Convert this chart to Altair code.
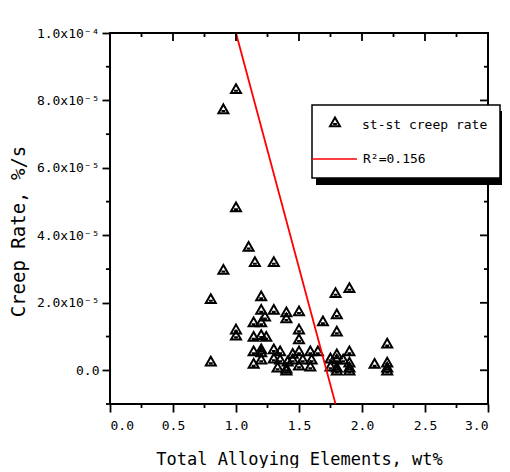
import altair as alt
import pandas as pd

# ---- data ----
alloy = [0.8, 0.8, 0.9, 0.9, 1.0, 1.0, 1.0, 1.0, 1.1, 1.15, 1.3, 1.2, 1.2, 1.23, 1.3,
         1.4, 1.5, 1.4, 1.14, 1.2, 1.5, 1.14, 1.2, 1.24, 1.5, 1.14, 1.2, 1.2, 1.3, 1.35,
         1.45, 1.5, 1.59, 1.65, 1.14, 1.2, 1.3, 1.35, 1.41, 1.45, 1.53, 1.6, 1.33, 1.4,
         1.5, 1.59, 1.4, 1.69, 1.79, 1.9, 1.8, 1.8, 1.9, 1.8, 1.75, 1.8, 1.85, 1.9,
         1.75, 1.8, 1.8, 1.9, 1.9, 2.1, 2.2, 2.2, 2.2, 2.2]
creep = [2.12e-5, 0.27e-5, 7.75e-5, 2.99e-5, 8.35e-5, 4.84e-5, 1.22e-5, 1.04e-5, 3.67e-5,
         3.22e-5, 3.22e-5, 2.2e-5, 1.8e-5, 1.6e-5, 1.8e-5, 1.73e-5, 1.76e-5, 1.55e-5,
         1.43e-5, 1.43e-5, 1.22e-5, 1.0e-5, 1.05e-5, 1.0e-5, 0.93e-5, 0.57e-5, 0.63e-5,
         0.54e-5, 0.63e-5, 0.57e-5, 0.5e-5, 0.57e-5, 0.57e-5, 0.57e-5, 0.2e-5, 0.33e-5,
         0.36e-5, 0.33e-5, 0.27e-5, 0.33e-5, 0.33e-5, 0.33e-5, 0.09e-5, 0.06e-5, 0.15e-5,
         0.12e-5, 0.0, 1.46e-5, 2.3e-5, 2.45e-5, 1.67e-5, 1.16e-5, 0.57e-5, 0.48e-5,
         0.36e-5, 0.33e-5, 0.33e-5, 0.24e-5, 0.12e-5, 0.09e-5, 0.0, 0.09e-5, 0.0,
         0.2e-5, 0.8e-5, 0.24e-5, 0.09e-5, 0.0]

fit_x = [1.0, 1.79]
fit_y = [1.0e-4, -1.0e-5]

x_major = [0.0, 0.5, 1.0, 1.5, 2.0, 2.5, 3.0]
x_minor = [0.25, 0.75, 1.25, 1.75, 2.25, 2.75]
y_major = [0.0, 2e-5, 4e-5, 6e-5, 8e-5, 1e-4]
y_major_labels = ["0.0", "2.0x10⁻⁵", "4.0x10⁻⁵", "6.0x10⁻⁵", "8.0x10⁻⁵", "1.0x10⁻⁴"]
y_minor = [-1e-5, 1e-5, 3e-5, 5e-5, 7e-5, 9e-5]
legend_labels = ["st-st creep rate", "R²=0.156"]

x_title = "Total Alloying Elements, wt%"
y_title = "Creep Rate, %/s"

# ---- styling ----
W, H = 378, 371
FONT = "DejaVu Sans Mono"
TRI = "M0,-0.9L1,0.85L-1,0.85Z M-0.38,0.42L0.38,0.42"

xs = alt.Scale(domain=[0, 3], nice=False, zero=False)
ys = alt.Scale(domain=[-1e-5, 1e-4], nice=False, zero=False)

label_expr = ""
for v, s in zip(y_major, y_major_labels):
    label_expr += f"abs(datum.value - ({v})) < 1e-9 ? '{s}' : "
label_expr += "''"

x_axis = alt.Axis(
    values=x_major, format=".1f", tickSize=8, tickWidth=1.8, tickColor="black",
    domain=False, grid=False, labelFont=FONT, labelFontSize=13, labelColor="black",
    labelPadding=7, title=x_title, titleFont=FONT, titleFontSize=17,
    titleFontWeight="normal", titleColor="black", titlePadding=19)
y_axis = alt.Axis(
    values=y_major, labelExpr=label_expr, tickSize=8, tickWidth=1.8, tickColor="black",
    domain=False, grid=False, labelFont=FONT, labelFontSize=13, labelColor="black",
    labelPadding=3, title=y_title, titleFont=FONT, titleFontSize=19,
    titleFontWeight="normal", titleColor="black", titlePadding=8, titleY=198)

pts = pd.DataFrame({"alloy": alloy, "creep": creep})
fit = pd.DataFrame({"alloy": fit_x, "creep": fit_y})
one = pd.DataFrame({"k": [0]})

points = alt.Chart(pts).mark_point(
    shape=TRI, size=100, filled=False, stroke="black", strokeWidth=2, opacity=1
).encode(
    x=alt.X("alloy:Q", scale=xs, axis=x_axis),
    y=alt.Y("creep:Q", scale=ys, axis=y_axis),
)

line = alt.Chart(fit).mark_line(color="#ff0000", strokeWidth=1.8).encode(
    x=alt.X("alloy:Q", scale=xs, axis=x_axis),
    y=alt.Y("creep:Q", scale=ys, axis=y_axis),
)


def xrule(vals, a, b):
    return alt.Chart(pd.DataFrame({"alloy": vals})).mark_rule(
        color="black", strokeWidth=1.8).encode(
        x=alt.X("alloy:Q", scale=xs, axis=x_axis), y=alt.value(a), y2=alt.value(b))


def yrule(vals, a, b):
    return alt.Chart(pd.DataFrame({"creep": vals})).mark_rule(
        color="black", strokeWidth=1.8).encode(
        y=alt.Y("creep:Q", scale=ys, axis=y_axis), x=alt.value(a), x2=alt.value(b))


ticks = [
    xrule(x_minor, H, H + 4),          # bottom minor (outward)
    xrule(x_major, 0, 8),              # top major (inward)
    xrule(x_minor, 0, 4),              # top minor (inward)
    yrule(y_minor, -4, 0),             # left minor (outward)
    yrule(y_major, W - 8, W),          # right major (inward)
    yrule(y_minor, W - 4, W),          # right minor (inward)
]

shadow = alt.Chart(one).mark_rect(color="black").encode(
    x=alt.value(206), x2=alt.value(396), y=alt.value(78), y2=alt.value(152))
box = alt.Chart(one).mark_rect(fill="white", stroke="black", strokeWidth=1.5).encode(
    x=alt.value(202), x2=alt.value(390), y=alt.value(72), y2=alt.value(145))
leg_sym = alt.Chart(one).mark_point(
    shape=TRI, size=100, filled=False, stroke="black", strokeWidth=2, opacity=1
).encode(x=alt.value(225), y=alt.value(89))
leg_line = alt.Chart(one).mark_rule(color="#ff0000", strokeWidth=1.5).encode(
    x=alt.value(202), x2=alt.value(247), y=alt.value(126))
leg_txt1 = alt.Chart(one).mark_text(
    align="left", baseline="middle", font=FONT, fontSize=13, color="black"
).encode(x=alt.value(252), y=alt.value(92), text=alt.value(legend_labels[0]))
leg_txt2 = alt.Chart(one).mark_text(
    align="left", baseline="middle", font=FONT, fontSize=13, color="black"
).encode(x=alt.value(253), y=alt.value(126), text=alt.value(legend_labels[1]))

chart = alt.layer(
    points, line, *ticks, shadow, box, leg_sym, leg_line, leg_txt1, leg_txt2
).properties(
    width=W, height=H,
    padding={"left": 102, "top": 25, "right": 14, "bottom": 64},
    autosize="none",
).configure_view(stroke="black", strokeWidth=2)

chart.save("out.html", embed_options={"renderer": "svg", "actions": False})
